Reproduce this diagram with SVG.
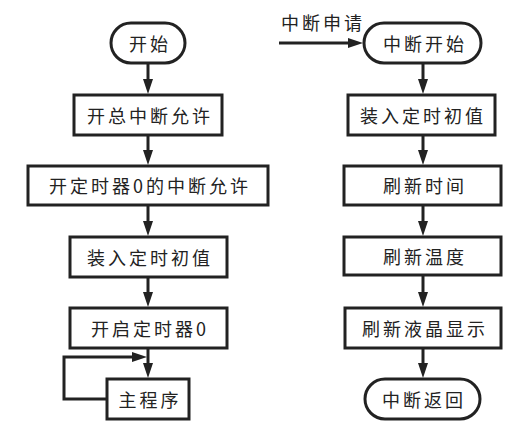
<svg xmlns="http://www.w3.org/2000/svg" width="530" height="438" viewBox="0 0 530 438">
<style>
.box{fill:#fff;stroke:#222;stroke-width:3}
.ln{fill:none;stroke:#222;stroke-width:3}
.t{font-family:"Noto Sans CJK SC","Noto Sans",sans-serif;font-size:18px;fill:#222;text-anchor:middle;dominant-baseline:central;letter-spacing:3px}
</style>
<defs>
<marker id="ah" viewBox="0 0 15 10" refX="7" refY="5" markerWidth="15" markerHeight="10" markerUnits="userSpaceOnUse" orient="auto">
<path d="M0,0 L15,5 L0,10 z" fill="#222"/>
</marker>
</defs>
<rect width="530" height="438" fill="#fff"/>
<g id="connectors">
<line class="ln" x1="148" y1="63" x2="148" y2="86" marker-end="url(#ah)"/>
<line class="ln" x1="148" y1="135" x2="148" y2="157" marker-end="url(#ah)"/>
<line class="ln" x1="148" y1="205" x2="148" y2="228" marker-end="url(#ah)"/>
<line class="ln" x1="148" y1="277" x2="148" y2="299" marker-end="url(#ah)"/>
<line class="ln" x1="148" y1="348" x2="148" y2="370" marker-end="url(#ah)"/>
<polyline class="ln" points="107,399 64,399 64,357 139,357" marker-end="url(#ah)"/>
<line class="ln" x1="279" y1="43" x2="355" y2="43" marker-end="url(#ah)"/>
<line class="ln" x1="423" y1="63" x2="423" y2="86" marker-end="url(#ah)"/>
<line class="ln" x1="423" y1="135" x2="423" y2="157" marker-end="url(#ah)"/>
<line class="ln" x1="423" y1="205" x2="423" y2="228" marker-end="url(#ah)"/>
<line class="ln" x1="423" y1="275" x2="423" y2="299" marker-end="url(#ah)"/>
<line class="ln" x1="423" y1="348" x2="423" y2="370" marker-end="url(#ah)"/>
</g>
<text class="t" x="323" y="22">中断申请</text>
<g id="start"><rect class="box" x="111" y="23" width="74" height="40" rx="20"/><text class="t" x="150" y="43">开始</text></g>
<g id="n1"><rect class="box" x="74" y="95" width="148" height="40"/><text class="t" x="150" y="115">开总中断允许</text></g>
<g id="n2"><rect class="box" x="28" y="166" width="240" height="39"/><text class="t" x="150" y="185">开定时器0的中断允许</text></g>
<g id="n3"><rect class="box" x="70" y="237" width="157" height="40"/><text class="t" x="150" y="257">装入定时初值</text></g>
<g id="n4"><rect class="box" x="70" y="308" width="157" height="40"/><text class="t" x="150" y="328">开启定时器0</text></g>
<g id="main"><rect class="box" x="107" y="379" width="82" height="40"/><text class="t" x="150" y="399">主程序</text></g>
<g id="isr"><rect class="box" x="364" y="23" width="117" height="40" rx="20"/><text class="t" x="425" y="43">中断开始</text></g>
<g id="r1"><rect class="box" x="348" y="95" width="147" height="40"/><text class="t" x="423" y="115">装入定时初值</text></g>
<g id="r2"><rect class="box" x="344" y="166" width="157" height="39"/><text class="t" x="425" y="185">刷新时间</text></g>
<g id="r3"><rect class="box" x="344" y="237" width="157" height="38"/><text class="t" x="425" y="256">刷新温度</text></g>
<g id="r4"><rect class="box" x="345" y="308" width="156" height="40"/><text class="t" x="425" y="328">刷新液晶显示</text></g>
<g id="ret"><rect class="box" x="365" y="379" width="115" height="40" rx="20"/><text class="t" x="424" y="399">中断返回</text></g>
</svg>
